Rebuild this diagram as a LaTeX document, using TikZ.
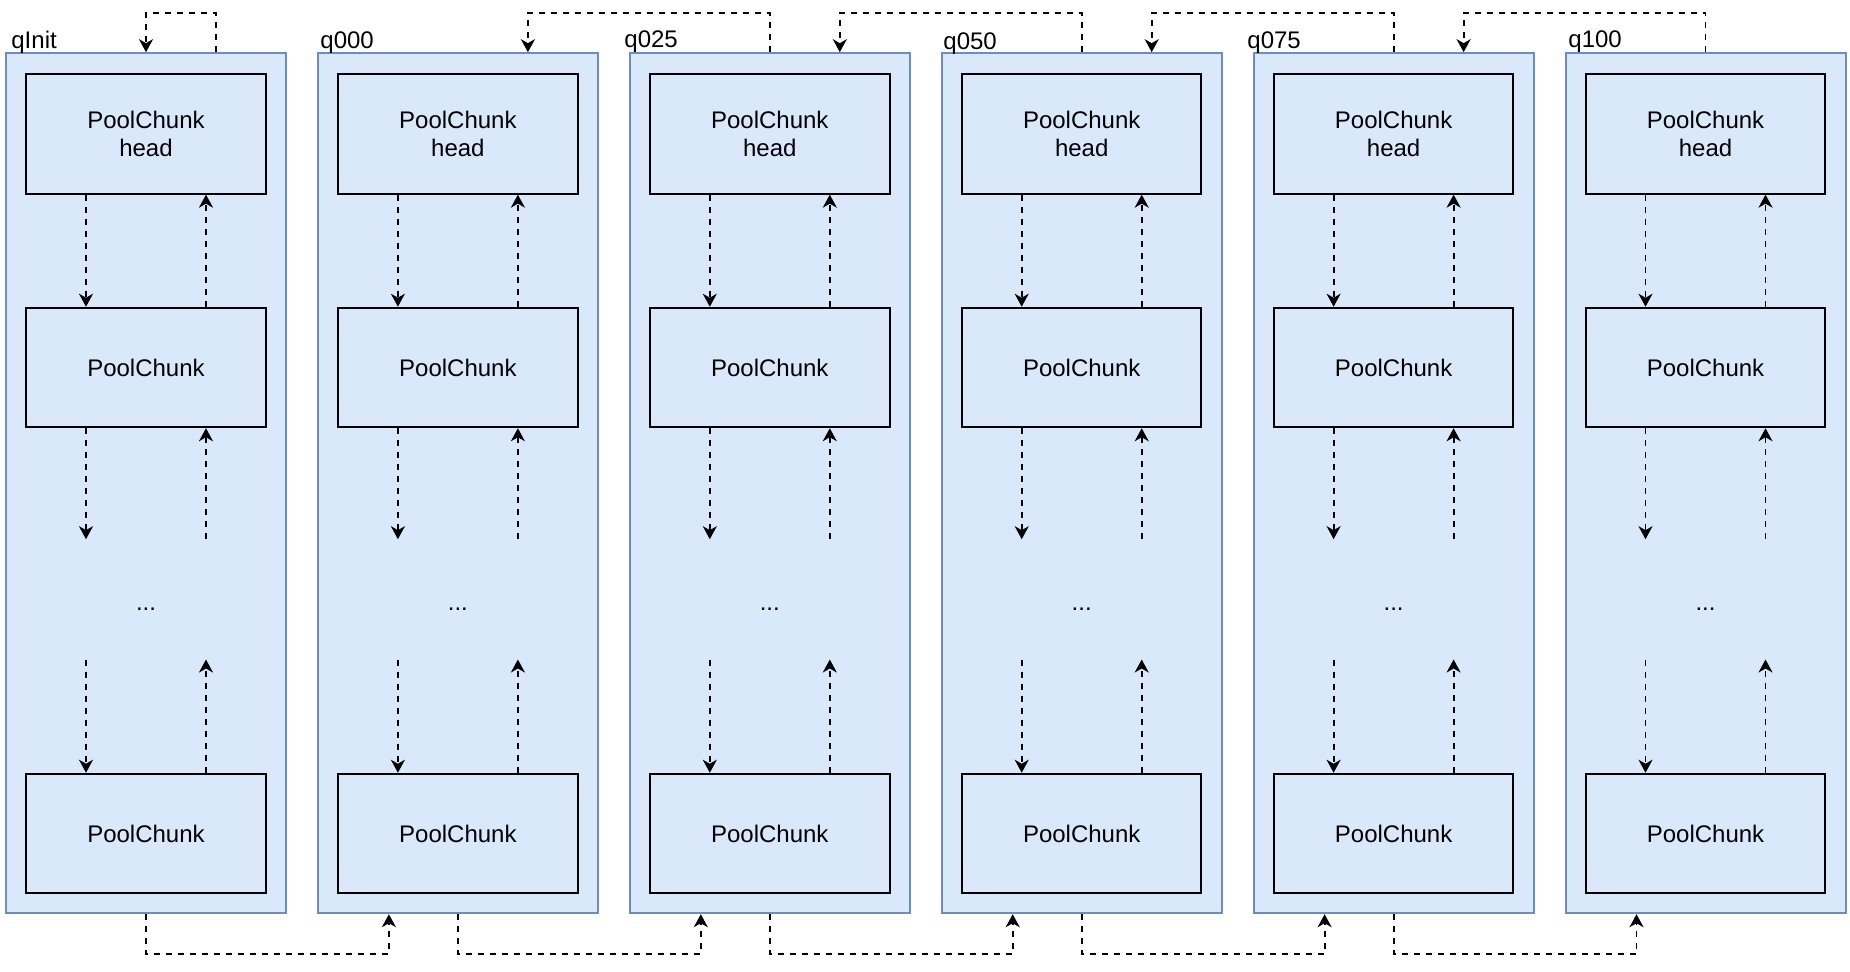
\documentclass[tikz,border=0pt]{standalone}
\usepackage{fontspec}
\setmainfont{Liberation Sans}
\usetikzlibrary{arrows.meta}
\definecolor{cfill}{HTML}{DAE8FC}
\definecolor{cline}{HTML}{6C8EBF}
\begin{document}
\begin{tikzpicture}[x=0.5pt,y=-0.5pt,
  container/.style={draw=cline,fill=cfill,line width=1pt,minimum width=140pt,minimum height=430pt,inner sep=0pt},
  chunk/.style={draw=black,fill=cfill,line width=1pt,minimum width=119.75pt,minimum height=59.75pt,inner sep=0pt,align=center,font=\fontsize{12}{14}\selectfont},
  conn/.style={draw=black,line width=0.95pt,dash pattern=on 3pt off 3pt,-{Stealth[length=6.5pt,width=7pt,inset=2pt]}},
  lbl/.style={anchor=base west,inner sep=0pt,font=\fontsize{12}{14}\selectfont},
  dotlbl/.style={inner sep=0pt,font=\fontsize{12}{14}\selectfont}]
\useasboundingbox (0,0) rectangle (1850,972);
\foreach \i in {0,...,5}{
  \pgfmathsetmacro{\cx}{146+311.9*\i}
  \node[container] (c\i) at (\cx,483.2) {};
  \node[chunk] (h\i) at (\cx,133.9) {PoolChunk\\head};
  \node[chunk] (m\i) at (\cx,367.5) {PoolChunk};
  \node[chunk] (b\i) at (\cx,833.5) {PoolChunk};
  \node[dotlbl] (d\i) at (\cx,609) {...};
  \coordinate (ma\i) at (\cx-60,539.2);
  \coordinate (mb\i) at (\cx+60,539.2);
  \coordinate (la\i) at (\cx-60,659.5);
  \coordinate (lb\i) at (\cx+60,659.5);
  \draw[conn] ([xshift=-30pt]h\i.south) -- ([xshift=-30pt]m\i.north);
  \draw[conn] ([xshift=30pt]m\i.north) -- ([xshift=30pt]h\i.south);
  \draw[conn] ([xshift=-30pt]m\i.south) -- (ma\i);
  \draw[conn] (mb\i) -- ([xshift=30pt]m\i.south);
  \draw[conn] (la\i) -- ([xshift=-30pt]b\i.north);
  \draw[conn] ([xshift=30pt]b\i.north) -- (lb\i);
}
\node[lbl] (l0) at (11,49) {qInit};
\node[lbl] (l1) at (320,49) {q000};
\node[lbl] (l2) at (624,47.7) {q025};
\node[lbl] (l3) at (943,49.3) {q050};
\node[lbl] (l4) at (1247,49) {q075};
\node[lbl] (l5) at (1568,47.7) {q100};
% top connectors
\draw[conn] ([xshift=35pt]c0.north) -- ++(0,-39) -| (c0.north);
\foreach \i/\j in {2/1,3/2,4/3,5/4}{
  \draw[conn] (c\i.north) -- ++(0,-39) -| ([xshift=35pt]c\j.north);
}
% bottom connectors
\foreach \i/\j in {0/1,1/2,2/3,3/4,4/5}{
  \draw[conn] (c\i.south) -- ++(0,40) -| ([xshift=-34.5pt]c\j.south);
}
\end{tikzpicture}
\end{document}
